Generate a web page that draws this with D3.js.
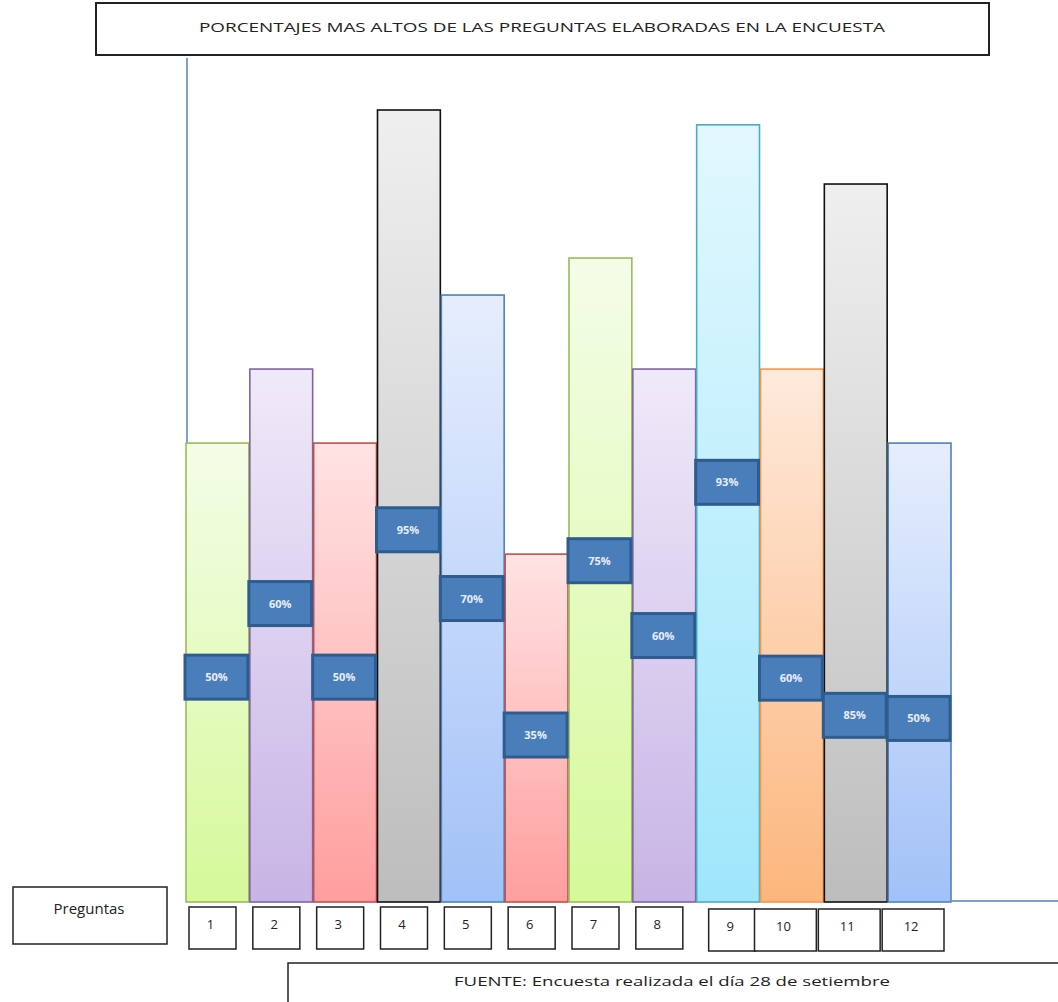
<!DOCTYPE html>
<html lang="es">
<head>
    <meta charset="UTF-8">
    <title>Porcentajes encuesta</title>
    <script src="https://cdn.jsdelivr.net/npm/d3@7"></script>
    <style>
        body { margin: 0; background: #fff; }
        text { font-family: "Open Sans", "Noto Sans", sans-serif; }
    </style>
</head>
<body>
<script>
	// datos
	var preguntas = ["1", "2", "3", "4", "5", "6", "7", "8", "9", "10", "11", "12"];
	var porcentajes = [50, 60, 50, 95, 70, 35, 75, 60, 93, 60, 85, 50];
	var titulo = "PORCENTAJES MAS ALTOS DE LAS PREGUNTAS ELABORADAS  EN LA ENCUESTA";
	var fuente = "FUENTE: Encuesta realizada el día 28 de setiembre";

	var width = 1058, height = 1002;
	var base = 902;

	var svg = d3.select("body").append("svg")
		.attr("width", width)
		.attr("height", height);

	// escalas
	var x = d3.scaleBand().domain(preguntas).range([186, 952]).padding(0);
	var y = d3.scaleLinear().domain([-12, 100]).range([base, 73]);

	// colores de cada barra (arriba claro, abajo oscuro, borde)
	var temas = {
		verde:   ["#f4fde8", "#d6f99a", "#9bbb59"],
		morado:  ["#efeaf9", "#c8b4e5", "#8064a2"],
		rojo:    ["#ffe3e3", "#ff9e9e", "#c0504d"],
		gris:    ["#efefef", "#bdbdbd", "#111111"],
		azul:    ["#e6eefd", "#a2c1f7", "#4f81bd"],
		cian:    ["#e2f8fe", "#9fe6fb", "#4bacc6"],
		naranja: ["#feeadc", "#fcb67d", "#f79646"]
	};
	var temaBarra = ["verde", "morado", "rojo", "gris", "azul", "rojo", "verde", "morado", "cian", "naranja", "gris", "azul"];
	// altura de la etiqueta dentro de la barra (fraccion desde la base)
	var posEtiqueta = [0.49, 0.56, 0.49, 0.47, 0.5, 0.48, 0.53, 0.5, 0.54, 0.42, 0.26, 0.4];

	var defs = svg.append("defs");
	Object.keys(temas).forEach(function (k) {
		var g = defs.append("linearGradient")
			.attr("id", "g-" + k)
			.attr("x1", 0).attr("y1", 0).attr("x2", 0).attr("y2", 1);
		g.append("stop").attr("offset", "0%").attr("stop-color", temas[k][0]);
		g.append("stop").attr("offset", "100%").attr("stop-color", temas[k][1]);
	});

	// titulo
	svg.append("rect")
		.attr("x", 96).attr("y", 3).attr("width", 893).attr("height", 52)
		.attr("fill", "#fff").attr("stroke", "#222").attr("stroke-width", 2);
	svg.append("text")
		.attr("x", 542).attr("y", 32)
		.attr("text-anchor", "middle")
		.attr("font-size", 13)
		.attr("textLength", 686)
		.attr("lengthAdjust", "spacingAndGlyphs")
		.attr("fill", "#222")
		.text(titulo);

	// ejes
	svg.append("line")
		.attr("x1", 187).attr("x2", 187).attr("y1", 58).attr("y2", base)
		.attr("stroke", "#4f81bd").attr("stroke-width", 1.5);
	svg.append("line")
		.attr("x1", 952).attr("x2", width).attr("y1", base - 1).attr("y2", base - 1)
		.attr("stroke", "#4f81bd").attr("stroke-width", 1.5);

	// barras
	svg.selectAll("rect.barra")
		.data(porcentajes)
		.enter()
		.append("rect")
		.attr("class", "barra")
		.attr("x", function (d, i) { return x(preguntas[i]); })
		.attr("y", function (d) { return y(d); })
		.attr("width", x.bandwidth() - 1)
		.attr("height", function (d) { return base - y(d); })
		.attr("fill", function (d, i) { return "url(#g-" + temaBarra[i] + ")"; })
		.attr("stroke", function (d, i) { return temas[temaBarra[i]][2]; })
		.attr("stroke-width", 1.6);

	// etiquetas de porcentaje
	var etq = svg.selectAll("g.etq")
		.data(porcentajes)
		.enter()
		.append("g")
		.attr("class", "etq")
		.attr("transform", function (d, i) {
			var cy = base - (base - y(d)) * posEtiqueta[i];
			return "translate(" + (x(preguntas[i]) - 1) + "," + (cy - 22) + ")";
		});
	etq.append("rect")
		.attr("width", x.bandwidth() - 1)
		.attr("height", 44)
		.attr("fill", "#4a7ebb")
		.attr("stroke", "#2f5c8f")
		.attr("stroke-width", 3);
	etq.append("text")
		.attr("x", (x.bandwidth() - 1) / 2)
		.attr("y", 26)
		.attr("text-anchor", "middle")
		.attr("font-size", 11)
		.attr("font-weight", "bold")
		.attr("fill", "#e8eef7")
		.text(function (d) { return d + "%"; });

	// caja "Preguntas"
	svg.append("rect")
		.attr("x", 13).attr("y", 887).attr("width", 154).attr("height", 57)
		.attr("fill", "#fff").attr("stroke", "#222").attr("stroke-width", 1.5);
	svg.append("text")
		.attr("x", 89).attr("y", 914)
		.attr("text-anchor", "middle")
		.attr("font-size", 15)
		.attr("fill", "#222")
		.text("Preguntas");

	// cajas de numero de pregunta
	function cajaX(i) {
		var bx = x(preguntas[i]);
		if (i < 8) return bx + 3;
		if (i === 8) return bx + 12;
		return bx - 6;
	}
	function cajaW(i) {
		if (i < 8) return 47;
		if (i === 8) return 47;
		return x.bandwidth() - 2;
	}
	var cajas = svg.selectAll("g.caja")
		.data(preguntas)
		.enter()
		.append("g")
		.attr("class", "caja")
		.attr("transform", function (d, i) {
			return "translate(" + cajaX(i) + "," + (i < 8 ? 907 : 909) + ")";
		});
	cajas.append("rect")
		.attr("width", function (d, i) { return cajaW(i); })
		.attr("height", 42)
		.attr("fill", "#fff")
		.attr("stroke", "#222")
		.attr("stroke-width", 1.5);
	cajas.append("text")
		.attr("x", function (d, i) { return cajaW(i) / 2 - 2; })
		.attr("y", function (d, i) { return i < 8 ? 22 : 22; })
		.attr("text-anchor", "middle")
		.attr("font-size", 13)
		.attr("fill", "#222")
		.text(function (d) { return d; });

	// fuente
	svg.append("rect")
		.attr("x", 288).attr("y", 963).attr("width", 800).attr("height", 60)
		.attr("fill", "#fff").attr("stroke", "#222").attr("stroke-width", 1.5);
	svg.append("text")
		.attr("x", 672).attr("y", 986)
		.attr("text-anchor", "middle")
		.attr("font-size", 13)
		.attr("textLength", 436)
		.attr("lengthAdjust", "spacingAndGlyphs")
		.attr("fill", "#222")
		.text(fuente);
</script>
</body>
</html>
